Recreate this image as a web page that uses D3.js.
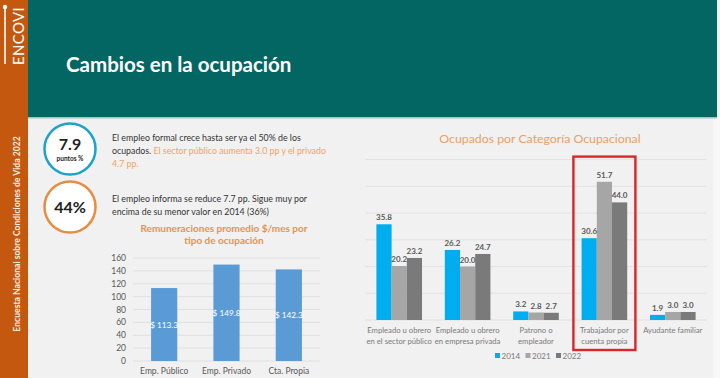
<!DOCTYPE html>
<html><head><meta charset="utf-8">
<script src="https://cdn.jsdelivr.net/npm/d3@7"></script>
<style>body{margin:0;background:#f1f1f1;}svg{display:block;font-family:Lato,"Open Sans",sans-serif;}</style>
</head><body><svg id="c" width="720" height="378"></svg>
<script>
// ---- data ----
const remCategories = ["Emp. Público", "Emp. Privado", "Cta. Propia"];
const remValues = [113.3, 149.8, 142.3];
const remTicks = [0, 20, 40, 60, 80, 100, 120, 140, 160];

const ocuCategories = [
  ["Empleado u obrero", "en el sector público"],
  ["Empleado u obrero", "en empresa privada"],
  ["Patrono o", "empleador"],
  ["Trabajador por", "cuenta propia"],
  ["Ayudante familiar"]
];
const ocuYears = ["2014", "2021", "2022"];
const ocu2014 = [35.8, 26.2, 3.2, 30.6, 1.9];
const ocu2021 = [20.2, 20.0, 2.8, 51.7, 3.0];
const ocu2022 = [23.2, 24.7, 2.7, 44.0, 3.0];
const ocuTicks = [0, 10, 20, 30, 40, 50, 60];
const highlightIndex = 3;

const yearColors = ["#00AEEF", "#A6A6A6", "#7A7A7A"];

const svg = d3.select("#c");

// ---- slide frame ----
svg.append("rect").attr("x",0).attr("y",0).attr("width",720).attr("height",378).attr("fill","#f1f1f1");
svg.append("rect").attr("x",713).attr("y",117).attr("width",7).attr("height",261).attr("fill","#f7f7f7");
svg.append("rect").attr("x",28).attr("y",0).attr("width",689).attr("height",117).attr("fill","#046663");
svg.append("rect").attr("x",28).attr("y",117).attr("width",689).attr("height",1.5).attr("fill","#9fc4c2");
svg.append("rect").attr("x",0).attr("y",0).attr("width",28).attr("height",378).attr("fill","#C4580F");

// logo
svg.append("line").attr("x1",5).attr("x2",5).attr("y1",9).attr("y2",64).attr("stroke","#fff").attr("stroke-width",1.6);
svg.append("circle").attr("cx",5).attr("cy",7).attr("r",2.2).attr("fill","#fff");
svg.append("text").attr("transform","translate(24,36) rotate(-90)").attr("text-anchor","middle")
  .attr("fill","#fff").attr("font-size",15).attr("font-weight",400).attr("letter-spacing",0.3).text("ENCOVI");
svg.append("text").attr("transform","translate(20,234) rotate(-90)").attr("text-anchor","middle")
  .attr("fill","#fbeee0").attr("font-size",8.6).attr("font-weight",700).text("Encuesta Nacional sobre Condiciones de Vida 2022");

// title
svg.append("text").attr("x",66).attr("y",72).attr("fill","#fff").attr("font-size",20.5).attr("font-weight",700)
  .text("Cambios en la ocupación");

// ---- info bubbles ----
svg.append("circle").attr("cx",70).attr("cy",149).attr("r",25.5).attr("fill","#fff").attr("stroke","#1BA3CC").attr("stroke-width",2.5);
svg.append("text").attr("x",70).attr("y",150).attr("text-anchor","middle").attr("font-size",16).attr("font-weight",700).attr("fill","#222").text("7.9");
svg.append("text").attr("x",70).attr("y",161).attr("text-anchor","middle").attr("font-size",6.5).attr("font-weight",700).attr("fill","#222").text("puntos %");
svg.append("circle").attr("cx",70).attr("cy",207).attr("r",25.5).attr("fill","#fff").attr("stroke","#E88C3F").attr("stroke-width",2.5);
svg.append("text").attr("x",70).attr("y",213).attr("text-anchor","middle").attr("font-size",16).attr("font-weight",700).attr("fill","#222").text("44%");

const t1 = svg.append("g").attr("font-size",8.8).attr("fill","#333");
t1.append("text").attr("x",112).attr("y",141).text("El empleo formal crece hasta ser ya el 50% de los");
const l2 = t1.append("text").attr("x",112).attr("y",154);
l2.append("tspan").text("ocupados. ");
l2.append("tspan").attr("fill","#EFA266").text("El sector público aumenta 3.0 pp y el privado");
t1.append("text").attr("x",112).attr("y",167).attr("fill","#EFA266").text("4.7 pp.");
t1.append("text").attr("x",112).attr("y",202).text("El empleo informa se reduce 7.7 pp. Sigue muy por");
t1.append("text").attr("x",112).attr("y",215).text("encima de su menor valor en 2014 (36%)");

// ---- left chart: remuneraciones ----
svg.append("text").attr("x",224).attr("y",232).attr("text-anchor","middle").attr("font-size",10).attr("font-weight",700)
  .attr("fill","#E8914A").text("Remuneraciones promedio $/mes por");
svg.append("text").attr("x",224).attr("y",244).attr("text-anchor","middle").attr("font-size",10).attr("font-weight",700)
  .attr("fill","#E8914A").text("tipo de ocupación");

const ry = d3.scaleLinear().domain([0,160]).range([361,258]);
const rx = d3.scaleBand().domain(remCategories).range([133,320]).paddingInner(0.58).paddingOuter(0.29);
const rg = svg.append("g");
rg.selectAll("line.g").data(remTicks).join("line").attr("x1",133).attr("x2",320)
  .attr("y1",d=>ry(d)).attr("y2",d=>ry(d)).attr("stroke","#dcdcdc").attr("stroke-width",0.8);
rg.selectAll("text.t").data(remTicks).join("text").attr("x",126).attr("y",d=>ry(d)+3)
  .attr("text-anchor","end").attr("font-size",8.5).attr("fill","#595959").text(d=>d);
rg.selectAll("rect").data(remValues).join("rect").attr("x",(d,i)=>rx(remCategories[i]))
  .attr("width",rx.bandwidth()).attr("y",d=>ry(d)).attr("height",d=>ry(0)-ry(d)).attr("fill","#5B9BD5");
rg.selectAll("text.v").data(remValues).join("text").attr("x",(d,i)=>rx(remCategories[i])+rx.bandwidth()/2)
  .attr("y",d=>(ry(d)+ry(0))/2+3).attr("text-anchor","middle").attr("font-size",8.2).attr("fill","#fff")
  .text(d=>"$ "+d.toFixed(1));
rg.selectAll("text.c").data(remCategories).join("text").attr("x",d=>rx(d)+rx.bandwidth()/2).attr("y",374)
  .attr("text-anchor","middle").attr("font-size",8.5).attr("fill","#595959").text(d=>d);

// ---- right chart: ocupados ----
svg.append("text").attr("x",540).attr("y",143).attr("text-anchor","middle").attr("font-size",12.3)
  .attr("fill","#E9A066").text("Ocupados por Categoría Ocupacional");

const oy = d3.scaleLinear().domain([0,60]).range([320,159.6]);
const catKeys = ocuCategories.map(c=>c.join(" "));
const ox0 = d3.scaleBand().domain(catKeys).range([365,707]).paddingInner(0.333).paddingOuter(0.1667);
const ox1 = d3.scaleBand().domain(ocuYears).range([0,ox0.bandwidth()]);
const series = [ocu2014, ocu2021, ocu2022];
const og = svg.append("g");
og.selectAll("line").data(ocuTicks).join("line").attr("x1",365).attr("x2",707)
  .attr("y1",d=>oy(d)).attr("y2",d=>oy(d)).attr("stroke","#dedede").attr("stroke-width",0.8);

series.forEach((vals,s)=>{
  og.selectAll("rect.s"+s).data(vals).join("rect").attr("class","s"+s)
    .attr("x",(d,i)=>ox0(catKeys[i])+ox1(ocuYears[s])).attr("width",ox1.bandwidth())
    .attr("y",d=>oy(d)).attr("height",d=>oy(0)-oy(d)).attr("fill",yearColors[s]);
});
series.forEach((vals,s)=>{
  og.selectAll("text.v"+s).data(vals).join("text").attr("class","v"+s)
    .attr("x",(d,i)=>ox0(catKeys[i])+ox1(ocuYears[s])+ox1.bandwidth()/2)
    .attr("y",d=>oy(d)-4).attr("text-anchor","middle").attr("font-size",8).attr("font-weight",700)
    .attr("fill","#595959").text(d=>d.toFixed(1));
});
ocuCategories.forEach((lines,i)=>{
  lines.forEach((ln,j)=>{
    og.append("text").attr("x",ox0(catKeys[i])+ox0.bandwidth()/2).attr("y",333+j*10.5)
      .attr("text-anchor","middle").attr("font-size",7.7).attr("fill","#7a7a7a").text(ln);
  });
});
// highlight
const hc = ox0(catKeys[highlightIndex])+ox0.bandwidth()/2;
og.append("rect").attr("x",hc-31).attr("y",oy(60)-3).attr("width",62).attr("height",350-(oy(60)-3))
  .attr("fill","none").attr("stroke","#D9262B").attr("stroke-width",2.4);
// legend
const lg = og.append("g");
ocuYears.forEach((yr,i)=>{
  const lx = 495 + i*30.5;
  lg.append("rect").attr("x",lx).attr("y",353).attr("width",5).attr("height",5).attr("fill",yearColors[i]);
  lg.append("text").attr("x",lx+6.5).attr("y",358.5).attr("font-size",8).attr("fill","#7a7a7a").text(yr);
});
</script></body></html>
